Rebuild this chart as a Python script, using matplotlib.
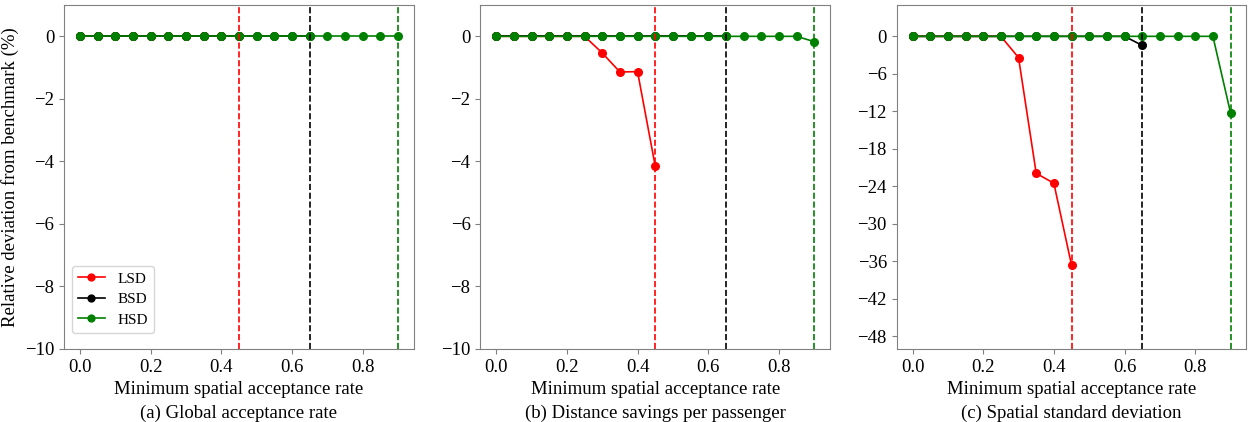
import numpy as np
import matplotlib
matplotlib.use("Agg")
import matplotlib.pyplot as plt
from matplotlib.ticker import MultipleLocator

plt.rcParams["font.family"] = ["Liberation Serif", "DejaVu Serif"]
plt.rcParams["font.size"] = 13.5

x = np.round(np.arange(0, 0.901, 0.05), 2)
thresholds = {"LSD": 0.45, "BSD": 0.65, "HSD": 0.9}
colors = {"LSD": "red", "BSD": "black", "HSD": "green"}

# (a) Global acceptance rate
a_lsd = [0, 0, 0, 0, 0, 0, 0, 0, 0, 0]
a_bsd = [0, 0, 0, 0, 0, 0, 0, 0, 0, 0, 0, 0, 0, 0]
a_hsd = [0, 0, 0, 0, 0, 0, 0, 0, 0, 0, 0, 0, 0, 0, 0, 0, 0, 0, 0]

# (b) Distance savings per passenger
b_lsd = [0, 0, 0, 0, 0, 0, -0.53, -1.14, -1.13, -4.15]
b_bsd = [0, 0, 0, 0, 0, 0, 0, 0, 0, 0, 0, 0, 0, 0]
b_hsd = [0, 0, 0, 0, 0, 0, 0, 0, 0, 0, 0, 0, 0, 0, 0, 0, 0, 0, -0.17]

# (c) Spatial standard deviation
c_lsd = [0, 0, 0, 0, 0, 0, -3.4, -21.9, -23.5, -36.6]
c_bsd = [0, 0, 0, 0, 0, 0, 0, 0, 0, 0, 0, 0, 0, -1.45]
c_hsd = [0, 0, 0, 0, 0, 0, 0, 0, 0, 0, 0, 0, 0, 0, 0, 0, 0, 0, -12.25]

panels = [
    ("(a) Global acceptance rate", {"LSD": a_lsd, "BSD": a_bsd, "HSD": a_hsd}, (-10, 1), 2),
    ("(b) Distance savings per passenger", {"LSD": b_lsd, "BSD": b_bsd, "HSD": b_hsd}, (-10, 1), 2),
    ("(c) Spatial standard deviation", {"LSD": c_lsd, "BSD": c_bsd, "HSD": c_hsd}, (-50, 5), 6),
]

fig, axes = plt.subplots(1, 3, figsize=(12.54, 4.22), dpi=100)
fig.subplots_adjust(left=0.051, right=0.994, top=0.988, bottom=0.173, wspace=0.19)

for i, (ax, (title, series, ylim, step)) in enumerate(zip(axes, panels)):
    for name in ["LSD", "BSD", "HSD"]:
        vals = series[name]
        ax.plot(x[:len(vals)], vals, "-o", color=colors[name], markersize=5.5,
                linewidth=1.2, label=name)
    for name in ["LSD", "BSD", "HSD"]:
        ax.axvline(thresholds[name], color=colors[name], linestyle="--", linewidth=1.2)
    ax.set_ylim(*ylim)
    ax.yaxis.set_major_locator(MultipleLocator(step))
    ax.set_xticks([0.0, 0.2, 0.4, 0.6, 0.8])
    ax.set_xlabel("Minimum spatial acceptance rate\n" + title, linespacing=1.45)
    for sp in ax.spines.values():
        sp.set_color("#808080")
    ax.tick_params(color="#808080")
    if i == 0:
        ax.set_ylabel("Relative deviation from benchmark (%)")
        ax.legend(loc="lower left", bbox_to_anchor=(0.0, 0.025), fontsize=11,
                  labelspacing=0.45, handlelength=1.8, markerscale=0.9)

plt.savefig("out.png")
